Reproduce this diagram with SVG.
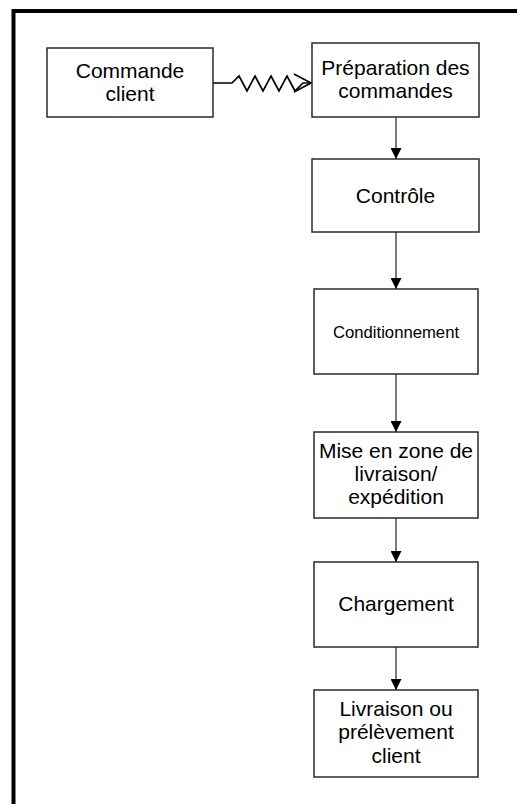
<svg xmlns="http://www.w3.org/2000/svg" width="517" height="804" viewBox="0 0 517 804">
<defs>
<marker id="ah" markerWidth="12" markerHeight="11" refX="11" refY="5.5" orient="auto" markerUnits="userSpaceOnUse">
<path d="M0,0 L11,5.5 L0,11 Z" fill="#000"/>
</marker>
</defs>
<style>
.box{fill:#fff;stroke:#2a2a2a;stroke-width:1.5}
.t{font-family:"Liberation Sans",Arial,sans-serif;font-size:21px;fill:#000;text-anchor:middle}
.s{font-size:16.7px}
.c{fill:none;stroke:#333;stroke-width:1.3}
.z{fill:none;stroke:#000;stroke-width:1.7;stroke-linejoin:miter}
</style>
<rect width="517" height="804" fill="#fff"/>
<rect x="13.5" y="11" width="560" height="850" fill="none" stroke="#000" stroke-width="4"/>
<g id="connectors">
<polyline class="z" points="213,83 232,83 239,76 247,91 255,76 263,91 271,76 279,91 287,76 295,91 303,83 310,83"/>
<polyline class="z" points="294,74 311,83 294,92" stroke-width="2.2"/>
<line class="c" x1="396" y1="117" x2="396" y2="159" marker-end="url(#ah)"/>
<line class="c" x1="396" y1="232" x2="396" y2="289" marker-end="url(#ah)"/>
<line class="c" x1="396" y1="374" x2="396" y2="432" marker-end="url(#ah)"/>
<line class="c" x1="396" y1="518" x2="396" y2="562" marker-end="url(#ah)"/>
<line class="c" x1="396" y1="647" x2="396" y2="690" marker-end="url(#ah)"/>
</g>
<g id="n1"><rect class="box" x="47" y="48" width="166" height="69"/><text class="t" x="130" y="78">Commande</text><text class="t" x="130" y="101">client</text></g>
<g id="n2"><rect class="box" x="312" y="43" width="167" height="74"/><text class="t" x="395.5" y="75">Préparation des</text><text class="t" x="395.5" y="98">commandes</text></g>
<g id="n3"><rect class="box" x="312" y="159" width="167" height="73"/><text class="t" x="395.5" y="203">Contrôle</text></g>
<g id="n4"><rect class="box" x="314" y="289" width="164" height="85"/><text class="t s" x="396" y="338">Conditionnement</text></g>
<g id="n5"><rect class="box" x="314" y="432" width="164" height="86"/><text class="t" x="396" y="458">Mise en zone de</text><text class="t" x="396" y="481">livraison/</text><text class="t" x="396" y="504">expédition</text></g>
<g id="n6"><rect class="box" x="314" y="562" width="164" height="85"/><text class="t" x="396" y="611">Chargement</text></g>
<g id="n7"><rect class="box" x="314" y="690" width="164" height="87"/><text class="t" x="396" y="716">Livraison ou</text><text class="t" x="396" y="739">prélèvement</text><text class="t" x="396" y="763">client</text></g>
</svg>
